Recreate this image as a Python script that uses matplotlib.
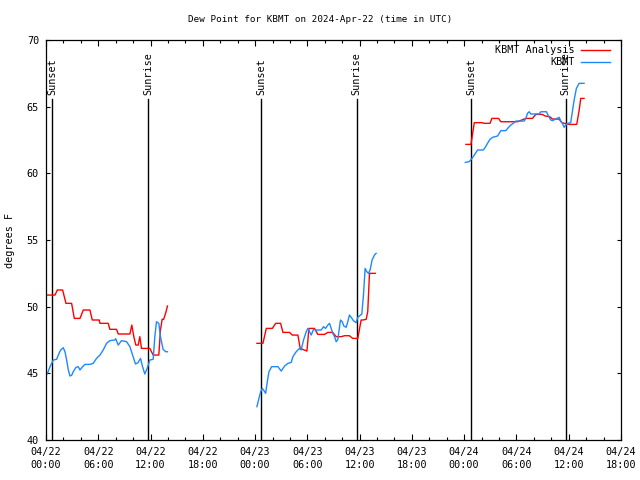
import matplotlib
matplotlib.use('Agg')
import matplotlib.pyplot as plt
import numpy as np

plt.rcParams['font.family'] = ['DejaVu Sans Mono']
plt.rcParams['font.size'] = 7

# hours since 04/22 00:00 UTC
an_hours = [0.15, 1.03, 1.3, 1.91, 2.29, 2.94, 3.25, 3.9, 4.28, 5.04, 5.31, 6.11, 6.19, 7.14,
            7.33, 8.1, 8.29, 9.63, 9.85, 10.08, 10.31, 10.58, 10.77, 10.96, 11.92, 12.3,
            12.95, 13.14, 13.33, 13.5, 13.75, 13.94, np.nan,
            24.21, 24.9, 25.29, 25.98, 26.36, 26.93, 27.2, 27.96, 28.27, 28.91, 29.18, 29.95,
            30.18, 30.82, 31.2, 31.97, 32.35, 32.9, 33.31, 33.88, 34.26, 34.83, 35.21, 35.79,
            36.17, 36.36, 36.75, 36.93, 37.13, 37.81, np.nan,
            48.2, 48.78, 49.16, 50.04, 50.3, 50.96, 51.18, 51.94, 52.21, 54.12, 55.08, 55.84,
            56.22, 56.98, 57.29, 57.83, 58.13, 58.9, 59.2, 60.04, 60.92, 61.19, 61.38, 61.76]
an_dewpt = [50.87, 50.87, 51.25, 51.25, 50.25, 50.25, 49.12, 49.12, 49.75, 49.75, 49.0, 49.0,
            48.75, 48.75, 48.3, 48.3, 47.95, 47.95, 48.62, 47.75, 47.12, 47.12, 47.75, 46.87,
            46.87, 46.37, 46.37, 48.25, 49.05, 49.05, 49.55, 50.05, np.nan,
            47.25, 47.25, 48.37, 48.37, 48.75, 48.75, 48.07, 48.07, 47.87, 47.87, 46.87, 46.67,
            48.37, 48.37, 47.92, 47.92, 48.07, 48.07, 47.75, 47.75, 47.82, 47.82, 47.62, 47.62,
            49.0, 49.0, 49.05, 49.62, 52.5, 52.5, np.nan,
            62.17, 62.17, 63.8, 63.8, 63.75, 63.75, 64.12, 64.12, 63.87, 63.87, 64.12, 64.12,
            64.42, 64.42, 64.3, 64.25, 64.07, 64.07, 63.8, 63.67, 63.67, 64.7, 65.62, 65.62]

ob_hours = [0.15, 0.46, 0.84, 1.22, 1.41, 1.68, 1.98, 2.18, 2.37, 2.56, 2.75, 2.94, 3.13, 3.44,
            3.7, 3.9, 4.2, 4.47, 5.04, 5.42, 5.8, 6.19, 6.57, 6.95, 7.33, 7.9, 8.0, 8.29, 8.67,
            9.24, 9.63, 10.0, 10.27, 10.56, 10.85, 11.08, 11.34, 11.61, 11.92, 12.3, 12.49,
            12.68, 12.95, 13.14, 13.44, 13.75, 13.94, np.nan,
            24.21, 24.44, 24.64, 24.83, 25.02, 25.21, 25.4, 25.59, 25.9, 26.62, 27.0, 27.39,
            27.77, 28.15, 28.34, 28.72, 29.1, 29.29, 29.56, 29.87, 30.06, 30.25, 30.44, 30.71,
            31.0, 31.59, 31.86, 32.09, 32.35, 32.54, 32.73, 32.92, 33.12, 33.31, 33.5, 33.69,
            33.8, 34.0, 34.19, 34.45, 34.64, 34.83, 35.03, 35.29, 35.6, 35.79, 36.09, 36.25,
            36.44, 36.63, 36.82, 37.01, 37.2, 37.43, 37.7, 37.89, np.nan,
            48.13, 48.55, 48.9, 49.16, 49.54, 50.19, 50.42, 50.68, 50.96, 51.26, 51.83, 52.02,
            52.21, 52.78, 53.09, 53.35, 53.73, 53.93, 54.88, 55.08, 55.27, 55.46, 55.65, 55.92,
            56.6, 56.8, 57.44, 57.67, 57.94, 58.13, 58.51, 58.9, 59.09, 59.28, 59.47, 59.66,
            59.92, 60.23, 60.42, 60.62, 60.88, 61.19, 61.76]
ob_dewpt = [44.95, 45.5, 46.0, 46.05, 46.37, 46.75, 46.92, 46.62, 46.0, 45.25, 44.8, 44.85, 45.12,
            45.45, 45.5, 45.25, 45.5, 45.67, 45.67, 45.75, 46.12, 46.37, 46.75, 47.25, 47.45, 47.5,
            47.6, 47.12, 47.45, 47.38, 47.0, 46.25, 45.7, 45.8, 46.12, 45.5, 44.95, 45.37, 46.0,
            46.05, 47.75, 48.87, 48.75, 47.75, 46.8, 46.62, 46.62, np.nan,
            42.5, 43.12, 43.62, 43.87, 43.7, 43.5, 44.37, 45.12, 45.5, 45.5, 45.17, 45.55, 45.75,
            45.82, 46.25, 46.62, 46.87, 46.75, 47.5, 48.12, 48.37, 48.12, 47.87, 48.3, 48.25,
            48.25, 48.5, 48.37, 48.62, 48.75, 48.37, 48.0, 47.75, 47.37, 47.55, 48.5, 49.0, 48.87,
            48.55, 48.45, 48.87, 49.37, 49.2, 48.95, 48.8, 49.2, 49.37, 49.45, 50.87, 52.87, 52.62,
            52.5, 52.75, 53.5, 53.87, 54.0, np.nan,
            60.82, 60.87, 61.12, 61.37, 61.75, 61.75, 61.95, 62.25, 62.55, 62.7, 62.8, 63.0, 63.2,
            63.2, 63.45, 63.62, 63.8, 63.92, 63.92, 64.12, 64.5, 64.62, 64.45, 64.45, 64.45, 64.62,
            64.62, 64.3, 64.0, 63.95, 64.07, 64.2, 63.92, 63.75, 63.45, 63.62, 63.75, 63.8, 64.62,
            65.5, 66.37, 66.75, 66.75]

sun_hours = [0.72, 11.72, 24.72, 35.67, 48.78, 59.67]
sun_names = ['Sunset', 'Sunrise', 'Sunset', 'Sunrise', 'Sunset', 'Sunrise']

tick_hours = list(range(0, 67, 6))
tick_labels = ['04/22\n00:00', '04/22\n06:00', '04/22\n12:00', '04/22\n18:00',
               '04/23\n00:00', '04/23\n06:00', '04/23\n12:00', '04/23\n18:00',
               '04/24\n00:00', '04/24\n06:00', '04/24\n12:00', '04/24\n18:00']

fig = plt.figure(figsize=(6.4, 4.8), dpi=100)
ax = fig.add_axes([46/640, 40/480, 575/640, 400/480])

for h, name in zip(sun_hours, sun_names):
    ax.plot([h, h], [40, 65.6], color='black', lw=1.0)
    ax.text(h, 65.9, name, rotation=90, ha='center', va='bottom', fontsize=7.3)

ax.plot(an_hours, an_dewpt, color='#ff0000', lw=1.0)
ax.plot(ob_hours, ob_dewpt, color='#1e88ff', lw=1.0)

ax.set_xlim(0, 66)
ax.set_ylim(40, 70)
ax.set_xticks(tick_hours)
ax.set_xticklabels(tick_labels, linespacing=1.35, fontsize=7.3)
ax.set_xticks(range(0, 67, 2), minor=True)
ax.set_yticks(range(40, 71, 5))
ax.tick_params(which='major', direction='in', top=True, right=True, length=4.5, width=0.8, pad=5)
ax.tick_params(which='minor', direction='in', top=True, right=False, length=2.5, width=0.8)
ax.tick_params(axis='y', which='major', length=3, labelsize=7.3)
for s in ax.spines.values():
    s.set_linewidth(0.9)

# legend, gnuplot style
ax.text(0.9195, 0.976, 'KBMT Analysis', transform=ax.transAxes, ha='right', va='center', fontsize=7.3)
ax.plot([0.930, 0.981], [0.976, 0.976], color='#ff0000', lw=1.0, transform=ax.transAxes, clip_on=False)
ax.text(0.9195, 0.944, 'KBMT', transform=ax.transAxes, ha='right', va='center', fontsize=7.3)
ax.plot([0.930, 0.981], [0.944, 0.944], color='#1e88ff', lw=1.0, transform=ax.transAxes, clip_on=False)

fig.text(0.5, 1 - 19/480, 'Dew Point for KBMT on 2024-Apr-22 (time in UTC)', ha='center', va='center',
         fontsize=6.7)
fig.text(10/640, 0.5, 'degrees F', rotation=90, ha='center', va='center', fontsize=7.3)

fig.savefig('out.png', dpi=100)
